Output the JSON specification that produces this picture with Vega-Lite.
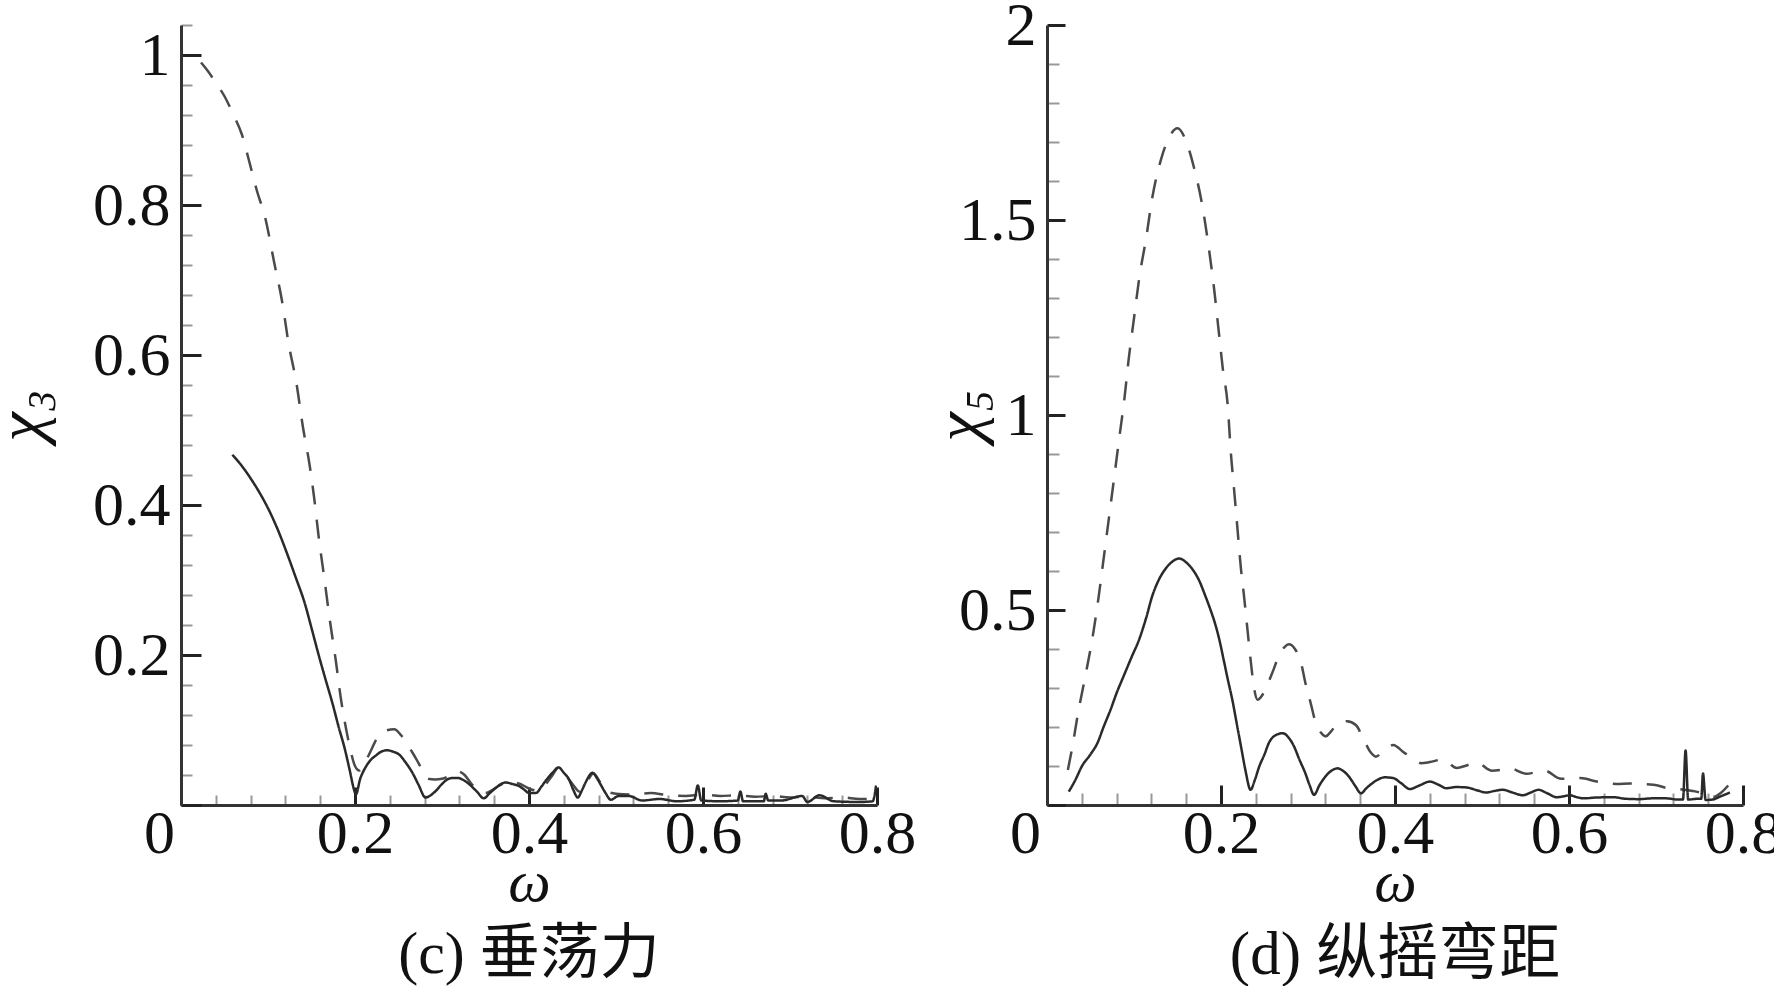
{
  "$schema": "https://vega.github.io/schema/vega-lite/v6.json",
  "background": "white",
  "padding": {"left": -12, "top": -6, "right": 5, "bottom": 0},
  "bounds": "flush",
  "spacing": 170,
  "config": {"view": {"stroke": null}},
  "datasets": {
    "c": [
      {"w":0.023,"v":0.99,"s":"dashed"},{"w":0.03,"v":0.98,"s":"dashed"},{"w":0.04,"v":0.963,"s":"dashed"},{"w":0.05,"v":0.945,"s":"dashed"},{"w":0.06,"v":0.921,"s":"dashed"},{"w":0.07,"v":0.894,"s":"dashed"},{"w":0.078,"v":0.86,"s":"dashed"},{"w":0.087,"v":0.82,"s":"dashed"},{"w":0.097,"v":0.782,"s":"dashed"},{"w":0.107,"v":0.724,"s":"dashed"},{"w":0.117,"v":0.666,"s":"dashed"},{"w":0.123,"v":0.62,"s":"dashed"},{"w":0.133,"v":0.56,"s":"dashed"},{"w":0.14,"v":0.505,"s":"dashed"},{"w":0.148,"v":0.452,"s":"dashed"},{"w":0.153,"v":0.41,"s":"dashed"},{"w":0.158,"v":0.36,"s":"dashed"},{"w":0.165,"v":0.3,"s":"dashed"},{"w":0.171,"v":0.247,"s":"dashed"},{"w":0.178,"v":0.192,"s":"dashed"},{"w":0.184,"v":0.14,"s":"dashed"},{"w":0.19,"v":0.1,"s":"dashed"},{"w":0.195,"v":0.072,"s":"dashed"},{"w":0.2,"v":0.052,"s":"dashed"},{"w":0.205,"v":0.046,"s":"dashed"},{"w":0.21,"v":0.054,"s":"dashed"},{"w":0.216,"v":0.067,"s":"dashed"},{"w":0.226,"v":0.09,"s":"dashed"},{"w":0.235,"v":0.099,"s":"dashed"},{"w":0.245,"v":0.101,"s":"dashed"},{"w":0.253,"v":0.093,"s":"dashed"},{"w":0.26,"v":0.081,"s":"dashed"},{"w":0.266,"v":0.07,"s":"dashed"},{"w":0.272,"v":0.058,"s":"dashed"},{"w":0.278,"v":0.045,"s":"dashed"},{"w":0.284,"v":0.035,"s":"dashed"},{"w":0.292,"v":0.034,"s":"dashed"},{"w":0.3,"v":0.035,"s":"dashed"},{"w":0.31,"v":0.04,"s":"dashed"},{"w":0.318,"v":0.045,"s":"dashed"},{"w":0.326,"v":0.04,"s":"dashed"},{"w":0.334,"v":0.028,"s":"dashed"},{"w":0.342,"v":0.02,"s":"dashed"},{"w":0.35,"v":0.016,"s":"dashed"},{"w":0.358,"v":0.02,"s":"dashed"},{"w":0.366,"v":0.026,"s":"dashed"},{"w":0.379,"v":0.031,"s":"dashed"},{"w":0.39,"v":0.028,"s":"dashed"},{"w":0.4,"v":0.022,"s":"dashed"},{"w":0.41,"v":0.019,"s":"dashed"},{"w":0.418,"v":0.026,"s":"dashed"},{"w":0.426,"v":0.038,"s":"dashed"},{"w":0.434,"v":0.05,"s":"dashed"},{"w":0.442,"v":0.04,"s":"dashed"},{"w":0.45,"v":0.028,"s":"dashed"},{"w":0.458,"v":0.018,"s":"dashed"},{"w":0.466,"v":0.03,"s":"dashed"},{"w":0.474,"v":0.042,"s":"dashed"},{"w":0.482,"v":0.03,"s":"dashed"},{"w":0.49,"v":0.018,"s":"dashed"},{"w":0.5,"v":0.015,"s":"dashed"},{"w":0.52,"v":0.014,"s":"dashed"},{"w":0.54,"v":0.016,"s":"dashed"},{"w":0.56,"v":0.013,"s":"dashed"},{"w":0.58,"v":0.012,"s":"dashed"},{"w":0.6,"v":0.014,"s":"dashed"},{"w":0.62,"v":0.012,"s":"dashed"},{"w":0.64,"v":0.013,"s":"dashed"},{"w":0.66,"v":0.011,"s":"dashed"},{"w":0.68,"v":0.012,"s":"dashed"},{"w":0.7,"v":0.01,"s":"dashed"},{"w":0.72,"v":0.011,"s":"dashed"},{"w":0.74,"v":0.009,"s":"dashed"},{"w":0.76,"v":0.01,"s":"dashed"},{"w":0.78,"v":0.008,"s":"dashed"},{"w":0.795,"v":0.008,"s":"dashed"},
      {"w":0.059,"v":0.467,"s":"solid"},{"w":0.07,"v":0.452,"s":"solid"},{"w":0.082,"v":0.432,"s":"solid"},{"w":0.092,"v":0.413,"s":"solid"},{"w":0.102,"v":0.391,"s":"solid"},{"w":0.112,"v":0.365,"s":"solid"},{"w":0.122,"v":0.335,"s":"solid"},{"w":0.132,"v":0.303,"s":"solid"},{"w":0.142,"v":0.27,"s":"solid"},{"w":0.15,"v":0.236,"s":"solid"},{"w":0.158,"v":0.201,"s":"solid"},{"w":0.166,"v":0.168,"s":"solid"},{"w":0.174,"v":0.136,"s":"solid"},{"w":0.181,"v":0.105,"s":"solid"},{"w":0.188,"v":0.076,"s":"solid"},{"w":0.194,"v":0.046,"s":"solid"},{"w":0.199,"v":0.02,"s":"solid"},{"w":0.201,"v":0.014,"s":"solid"},{"w":0.206,"v":0.035,"s":"solid"},{"w":0.212,"v":0.05,"s":"solid"},{"w":0.218,"v":0.06,"s":"solid"},{"w":0.224,"v":0.066,"s":"solid"},{"w":0.23,"v":0.071,"s":"solid"},{"w":0.237,"v":0.073,"s":"solid"},{"w":0.244,"v":0.071,"s":"solid"},{"w":0.251,"v":0.067,"s":"solid"},{"w":0.258,"v":0.057,"s":"solid"},{"w":0.266,"v":0.043,"s":"solid"},{"w":0.273,"v":0.027,"s":"solid"},{"w":0.281,"v":0.01,"s":"solid"},{"w":0.287,"v":0.013,"s":"solid"},{"w":0.293,"v":0.019,"s":"solid"},{"w":0.3,"v":0.028,"s":"solid"},{"w":0.306,"v":0.034,"s":"solid"},{"w":0.312,"v":0.036,"s":"solid"},{"w":0.318,"v":0.036,"s":"solid"},{"w":0.325,"v":0.033,"s":"solid"},{"w":0.331,"v":0.028,"s":"solid"},{"w":0.34,"v":0.018,"s":"solid"},{"w":0.348,"v":0.009,"s":"solid"},{"w":0.355,"v":0.016,"s":"solid"},{"w":0.362,"v":0.023,"s":"solid"},{"w":0.368,"v":0.028,"s":"solid"},{"w":0.373,"v":0.03,"s":"solid"},{"w":0.381,"v":0.028,"s":"solid"},{"w":0.389,"v":0.025,"s":"solid"},{"w":0.395,"v":0.02,"s":"solid"},{"w":0.4,"v":0.016,"s":"solid"},{"w":0.408,"v":0.016,"s":"solid"},{"w":0.414,"v":0.024,"s":"solid"},{"w":0.419,"v":0.032,"s":"solid"},{"w":0.427,"v":0.043,"s":"solid"},{"w":0.434,"v":0.05,"s":"solid"},{"w":0.44,"v":0.043,"s":"solid"},{"w":0.446,"v":0.034,"s":"solid"},{"w":0.451,"v":0.02,"s":"solid"},{"w":0.456,"v":0.01,"s":"solid"},{"w":0.461,"v":0.02,"s":"solid"},{"w":0.465,"v":0.03,"s":"solid"},{"w":0.473,"v":0.043,"s":"solid"},{"w":0.478,"v":0.036,"s":"solid"},{"w":0.482,"v":0.028,"s":"solid"},{"w":0.488,"v":0.016,"s":"solid"},{"w":0.494,"v":0.007,"s":"solid"},{"w":0.503,"v":0.012,"s":"solid"},{"w":0.515,"v":0.012,"s":"solid"},{"w":0.53,"v":0.006,"s":"solid"},{"w":0.55,"v":0.008,"s":"solid"},{"w":0.57,"v":0.005,"s":"solid"},{"w":0.59,"v":0.007,"s":"solid"},{"w":0.594,"v":0.026,"s":"solid"},{"w":0.598,"v":0.006,"s":"solid"},{"w":0.62,"v":0.005,"s":"solid"},{"w":0.64,"v":0.006,"s":"solid"},{"w":0.643,"v":0.018,"s":"solid"},{"w":0.646,"v":0.005,"s":"solid"},{"w":0.67,"v":0.005,"s":"solid"},{"w":0.672,"v":0.015,"s":"solid"},{"w":0.675,"v":0.006,"s":"solid"},{"w":0.69,"v":0.006,"s":"solid"},{"w":0.714,"v":0.012,"s":"solid"},{"w":0.72,"v":0.004,"s":"solid"},{"w":0.734,"v":0.013,"s":"solid"},{"w":0.75,"v":0.005,"s":"solid"},{"w":0.78,"v":0.004,"s":"solid"},{"w":0.795,"v":0.005,"s":"solid"},{"w":0.799,"v":0.026,"s":"solid"}
    ],
    "d": [
      {"w":0.024,"v":0.09,"s":"dashed"},{"w":0.03,"v":0.16,"s":"dashed"},{"w":0.035,"v":0.227,"s":"dashed"},{"w":0.044,"v":0.33,"s":"dashed"},{"w":0.052,"v":0.425,"s":"dashed"},{"w":0.059,"v":0.528,"s":"dashed"},{"w":0.065,"v":0.63,"s":"dashed"},{"w":0.071,"v":0.733,"s":"dashed"},{"w":0.077,"v":0.836,"s":"dashed"},{"w":0.083,"v":0.94,"s":"dashed"},{"w":0.089,"v":1.042,"s":"dashed"},{"w":0.094,"v":1.145,"s":"dashed"},{"w":0.1,"v":1.248,"s":"dashed"},{"w":0.106,"v":1.351,"s":"dashed"},{"w":0.114,"v":1.454,"s":"dashed"},{"w":0.121,"v":1.557,"s":"dashed"},{"w":0.131,"v":1.655,"s":"dashed"},{"w":0.14,"v":1.71,"s":"dashed"},{"w":0.15,"v":1.735,"s":"dashed"},{"w":0.159,"v":1.707,"s":"dashed"},{"w":0.169,"v":1.634,"s":"dashed"},{"w":0.179,"v":1.531,"s":"dashed"},{"w":0.186,"v":1.428,"s":"dashed"},{"w":0.192,"v":1.325,"s":"dashed"},{"w":0.197,"v":1.223,"s":"dashed"},{"w":0.202,"v":1.12,"s":"dashed"},{"w":0.208,"v":1.017,"s":"dashed"},{"w":0.211,"v":0.913,"s":"dashed"},{"w":0.215,"v":0.81,"s":"dashed"},{"w":0.219,"v":0.707,"s":"dashed"},{"w":0.223,"v":0.604,"s":"dashed"},{"w":0.226,"v":0.545,"s":"dashed"},{"w":0.23,"v":0.459,"s":"dashed"},{"w":0.234,"v":0.373,"s":"dashed"},{"w":0.238,"v":0.3,"s":"dashed"},{"w":0.242,"v":0.27,"s":"dashed"},{"w":0.247,"v":0.28,"s":"dashed"},{"w":0.251,"v":0.297,"s":"dashed"},{"w":0.259,"v":0.339,"s":"dashed"},{"w":0.267,"v":0.385,"s":"dashed"},{"w":0.273,"v":0.405,"s":"dashed"},{"w":0.278,"v":0.412,"s":"dashed"},{"w":0.285,"v":0.4,"s":"dashed"},{"w":0.292,"v":0.365,"s":"dashed"},{"w":0.297,"v":0.313,"s":"dashed"},{"w":0.303,"v":0.262,"s":"dashed"},{"w":0.309,"v":0.21,"s":"dashed"},{"w":0.315,"v":0.185,"s":"dashed"},{"w":0.32,"v":0.176,"s":"dashed"},{"w":0.327,"v":0.19,"s":"dashed"},{"w":0.334,"v":0.21,"s":"dashed"},{"w":0.345,"v":0.215,"s":"dashed"},{"w":0.355,"v":0.205,"s":"dashed"},{"w":0.365,"v":0.163,"s":"dashed"},{"w":0.372,"v":0.135,"s":"dashed"},{"w":0.378,"v":0.124,"s":"dashed"},{"w":0.385,"v":0.135,"s":"dashed"},{"w":0.392,"v":0.148,"s":"dashed"},{"w":0.398,"v":0.154,"s":"dashed"},{"w":0.41,"v":0.135,"s":"dashed"},{"w":0.421,"v":0.12,"s":"dashed"},{"w":0.43,"v":0.107,"s":"dashed"},{"w":0.44,"v":0.11,"s":"dashed"},{"w":0.455,"v":0.117,"s":"dashed"},{"w":0.471,"v":0.095,"s":"dashed"},{"w":0.483,"v":0.102,"s":"dashed"},{"w":0.494,"v":0.109,"s":"dashed"},{"w":0.511,"v":0.088,"s":"dashed"},{"w":0.522,"v":0.09,"s":"dashed"},{"w":0.532,"v":0.094,"s":"dashed"},{"w":0.551,"v":0.08,"s":"dashed"},{"w":0.562,"v":0.084,"s":"dashed"},{"w":0.572,"v":0.088,"s":"dashed"},{"w":0.591,"v":0.067,"s":"dashed"},{"w":0.613,"v":0.069,"s":"dashed"},{"w":0.632,"v":0.06,"s":"dashed"},{"w":0.655,"v":0.054,"s":"dashed"},{"w":0.67,"v":0.055,"s":"dashed"},{"w":0.697,"v":0.052,"s":"dashed"},{"w":0.714,"v":0.043,"s":"dashed"},{"w":0.73,"v":0.04,"s":"dashed"},{"w":0.745,"v":0.035,"s":"dashed"},{"w":0.757,"v":0.028,"s":"dashed"},{"w":0.766,"v":0.021,"s":"dashed"},{"w":0.775,"v":0.032,"s":"dashed"},{"w":0.783,"v":0.05,"s":"dashed"},
      {"w":0.025,"v":0.034,"s":"solid"},{"w":0.033,"v":0.066,"s":"solid"},{"w":0.04,"v":0.099,"s":"solid"},{"w":0.05,"v":0.13,"s":"solid"},{"w":0.058,"v":0.159,"s":"solid"},{"w":0.065,"v":0.2,"s":"solid"},{"w":0.073,"v":0.244,"s":"solid"},{"w":0.08,"v":0.287,"s":"solid"},{"w":0.088,"v":0.33,"s":"solid"},{"w":0.097,"v":0.378,"s":"solid"},{"w":0.106,"v":0.425,"s":"solid"},{"w":0.114,"v":0.48,"s":"solid"},{"w":0.121,"v":0.536,"s":"solid"},{"w":0.128,"v":0.575,"s":"solid"},{"w":0.136,"v":0.605,"s":"solid"},{"w":0.144,"v":0.624,"s":"solid"},{"w":0.152,"v":0.632,"s":"solid"},{"w":0.16,"v":0.622,"s":"solid"},{"w":0.167,"v":0.605,"s":"solid"},{"w":0.175,"v":0.575,"s":"solid"},{"w":0.182,"v":0.536,"s":"solid"},{"w":0.188,"v":0.5,"s":"solid"},{"w":0.194,"v":0.459,"s":"solid"},{"w":0.199,"v":0.415,"s":"solid"},{"w":0.203,"v":0.373,"s":"solid"},{"w":0.208,"v":0.32,"s":"solid"},{"w":0.213,"v":0.27,"s":"solid"},{"w":0.218,"v":0.21,"s":"solid"},{"w":0.223,"v":0.15,"s":"solid"},{"w":0.228,"v":0.09,"s":"solid"},{"w":0.234,"v":0.039,"s":"solid"},{"w":0.239,"v":0.065,"s":"solid"},{"w":0.244,"v":0.099,"s":"solid"},{"w":0.25,"v":0.13,"s":"solid"},{"w":0.255,"v":0.159,"s":"solid"},{"w":0.262,"v":0.178,"s":"solid"},{"w":0.271,"v":0.184,"s":"solid"},{"w":0.278,"v":0.172,"s":"solid"},{"w":0.284,"v":0.15,"s":"solid"},{"w":0.29,"v":0.117,"s":"solid"},{"w":0.297,"v":0.081,"s":"solid"},{"w":0.302,"v":0.05,"s":"solid"},{"w":0.307,"v":0.026,"s":"solid"},{"w":0.313,"v":0.05,"s":"solid"},{"w":0.32,"v":0.073,"s":"solid"},{"w":0.327,"v":0.088,"s":"solid"},{"w":0.334,"v":0.094,"s":"solid"},{"w":0.34,"v":0.088,"s":"solid"},{"w":0.347,"v":0.073,"s":"solid"},{"w":0.354,"v":0.05,"s":"solid"},{"w":0.361,"v":0.03,"s":"solid"},{"w":0.367,"v":0.043,"s":"solid"},{"w":0.374,"v":0.056,"s":"solid"},{"w":0.381,"v":0.066,"s":"solid"},{"w":0.388,"v":0.071,"s":"solid"},{"w":0.398,"v":0.069,"s":"solid"},{"w":0.407,"v":0.056,"s":"solid"},{"w":0.417,"v":0.041,"s":"solid"},{"w":0.428,"v":0.05,"s":"solid"},{"w":0.44,"v":0.06,"s":"solid"},{"w":0.45,"v":0.052,"s":"solid"},{"w":0.459,"v":0.043,"s":"solid"},{"w":0.47,"v":0.046,"s":"solid"},{"w":0.482,"v":0.045,"s":"solid"},{"w":0.494,"v":0.038,"s":"solid"},{"w":0.505,"v":0.032,"s":"solid"},{"w":0.514,"v":0.036,"s":"solid"},{"w":0.524,"v":0.039,"s":"solid"},{"w":0.535,"v":0.032,"s":"solid"},{"w":0.547,"v":0.025,"s":"solid"},{"w":0.556,"v":0.032,"s":"solid"},{"w":0.565,"v":0.039,"s":"solid"},{"w":0.575,"v":0.03,"s":"solid"},{"w":0.586,"v":0.02,"s":"solid"},{"w":0.593,"v":0.022,"s":"solid"},{"w":0.601,"v":0.025,"s":"solid"},{"w":0.609,"v":0.02,"s":"solid"},{"w":0.617,"v":0.017,"s":"solid"},{"w":0.63,"v":0.019,"s":"solid"},{"w":0.651,"v":0.02,"s":"solid"},{"w":0.665,"v":0.016,"s":"solid"},{"w":0.681,"v":0.015,"s":"solid"},{"w":0.695,"v":0.017,"s":"solid"},{"w":0.712,"v":0.017,"s":"solid"},{"w":0.725,"v":0.014,"s":"solid"},{"w":0.731,"v":0.014,"s":"solid"},{"w":0.734,"v":0.14,"s":"solid"},{"w":0.737,"v":0.014,"s":"solid"},{"w":0.748,"v":0.016,"s":"solid"},{"w":0.752,"v":0.016,"s":"solid"},{"w":0.754,"v":0.081,"s":"solid"},{"w":0.757,"v":0.013,"s":"solid"},{"w":0.765,"v":0.014,"s":"solid"},{"w":0.773,"v":0.021,"s":"solid"},{"w":0.785,"v":0.032,"s":"solid"}
    ]
  },
  "hconcat": [
    {
      "width": 696,
      "height": 780,
      "data": {"name": "c"},
      "title": {"text": "(c) 垂荡力", "orient": "bottom", "anchor": "middle", "font": "Liberation Serif, Noto Sans CJK SC", "fontSize": 60, "fontWeight": "normal", "color": "#111", "offset": 14},
      "mark": {"type": "line", "strokeWidth": 2.5, "interpolate": "monotone", "clip": true},
      "encoding": {
        "x": {"field": "w", "type": "quantitative", "scale": {"domain": [0, 0.8], "nice": false, "zero": false},
          "axis": {"values": [0,0.04,0.08,0.12,0.16,0.2,0.24,0.28,0.32,0.36,0.4,0.44,0.48,0.52,0.56,0.6,0.64,0.68,0.72,0.76,0.8],
            "labelExpr": "abs(datum.value*5-round(datum.value*5))<1e-6 ? format(datum.value,'~g') : ''",
            "tickSize": {"condition": {"test": "abs(datum.value*5-round(datum.value*5))<1e-6", "value": -18}, "value": -10},
            "tickWidth": {"condition": {"test": "abs(datum.value*5-round(datum.value*5))<1e-6", "value": 3}, "value": 2},
            "tickColor": {"condition": {"test": "abs(datum.value*5-round(datum.value*5))<1e-6", "value": "#222"}, "value": "#999"},
            "labelOffset": {"condition": {"test": "datum.value == 0", "value": -22}, "value": 0},
            "labelFlush": false, "labelOverlap": false, "labelBound": false,
            "labelFont": "Liberation Serif", "labelFontSize": 62, "labelColor": "#111", "labelBaseline": "alphabetic", "labelPadding": 65,
            "domainColor": "#333", "domainWidth": 3, "grid": false,
            "title": "ω", "titleFont": "Liberation Serif", "titleFontStyle": "italic", "titleFontWeight": "normal", "titleFontSize": 60, "titleColor": "#111", "titleBaseline": "alphabetic", "titleY": 95}},
        "y": {"field": "v", "type": "quantitative", "scale": {"domain": [0, 1.04], "nice": false},
          "axis": {"values": [0,0.04,0.08,0.12,0.16,0.2,0.24,0.28,0.32,0.36,0.4,0.44,0.48,0.52,0.56,0.6,0.64,0.68,0.72,0.76,0.8,0.84,0.88,0.92,0.96,1,1.04],
            "labelExpr": "abs(datum.value*5-round(datum.value*5))<1e-6 && datum.value > 0 ? format(datum.value,'~g') : ''",
            "tickSize": {"condition": {"test": "abs(datum.value*5-round(datum.value*5))<1e-6", "value": -20}, "value": -11},
            "tickWidth": {"condition": {"test": "abs(datum.value*5-round(datum.value*5))<1e-6", "value": 3}, "value": 2},
            "tickColor": {"condition": {"test": "abs(datum.value*5-round(datum.value*5))<1e-6", "value": "#222"}, "value": "#999"},
            "labelOverlap": false, "labelBound": false,
            "labelFont": "Liberation Serif", "labelFontSize": 62, "labelColor": "#111", "labelPadding": 31,
            "domainColor": "#333", "domainWidth": 3, "grid": false,
            "title": "χ₃", "titleFont": "Liberation Serif", "titleFontStyle": "italic", "titleFontWeight": "normal", "titleFontSize": 66, "titleColor": "#111", "titleBaseline": "alphabetic", "titleX": -140}},
        "color": {"field": "s", "type": "nominal", "scale": {"domain": ["dashed", "solid"], "range": ["#4a4a4a", "#2a2a2a"]}, "legend": null},
        "strokeDash": {"field": "s", "type": "nominal", "scale": {"domain": ["dashed", "solid"], "range": [[19, 15], [1, 0]]}, "legend": null}
      }
    },
    {
      "width": 696,
      "height": 780,
      "data": {"name": "d"},
      "title": {"text": "(d) 纵摇弯距", "orient": "bottom", "anchor": "middle", "font": "Liberation Serif, Noto Sans CJK SC", "fontSize": 61, "fontWeight": "normal", "color": "#111", "offset": 14},
      "mark": {"type": "line", "strokeWidth": 2.5, "interpolate": "monotone", "clip": true},
      "encoding": {
        "x": {"field": "w", "type": "quantitative", "scale": {"domain": [0, 0.8], "nice": false, "zero": false},
          "axis": {"values": [0,0.04,0.08,0.12,0.16,0.2,0.24,0.28,0.32,0.36,0.4,0.44,0.48,0.52,0.56,0.6,0.64,0.68,0.72,0.76,0.8],
            "labelExpr": "abs(datum.value*5-round(datum.value*5))<1e-6 ? format(datum.value,'~g') : ''",
            "tickSize": {"condition": {"test": "abs(datum.value*5-round(datum.value*5))<1e-6", "value": -20}, "value": -12},
            "tickWidth": {"condition": {"test": "abs(datum.value*5-round(datum.value*5))<1e-6", "value": 3}, "value": 2},
            "tickColor": {"condition": {"test": "abs(datum.value*5-round(datum.value*5))<1e-6", "value": "#222"}, "value": "#999"},
            "labelOffset": {"condition": {"test": "datum.value == 0", "value": -22}, "value": 0},
            "labelFlush": false, "labelOverlap": false, "labelBound": false,
            "labelFont": "Liberation Serif", "labelFontSize": 62, "labelColor": "#111", "labelBaseline": "alphabetic", "labelPadding": 67,
            "domainColor": "#333", "domainWidth": 3, "grid": false,
            "title": "ω", "titleFont": "Liberation Serif", "titleFontStyle": "italic", "titleFontWeight": "normal", "titleFontSize": 60, "titleColor": "#111", "titleBaseline": "alphabetic", "titleY": 95}},
        "y": {"field": "v", "type": "quantitative", "scale": {"domain": [0, 2], "nice": false},
          "axis": {"values": [0,0.1,0.2,0.3,0.4,0.5,0.6,0.7,0.8,0.9,1,1.1,1.2,1.3,1.4,1.5,1.6,1.7,1.8,1.9,2],
            "labelExpr": "abs(datum.value*2-round(datum.value*2))<1e-6 && datum.value > 0 ? format(datum.value,'~g') : ''",
            "tickSize": {"condition": {"test": "abs(datum.value*2-round(datum.value*2))<1e-6", "value": -18}, "value": -12},
            "tickWidth": {"condition": {"test": "abs(datum.value*2-round(datum.value*2))<1e-6", "value": 3}, "value": 2},
            "tickColor": {"condition": {"test": "abs(datum.value*2-round(datum.value*2))<1e-6", "value": "#222"}, "value": "#999"},
            "labelOverlap": false, "labelBound": false,
            "labelFont": "Liberation Serif", "labelFontSize": 62, "labelColor": "#111", "labelPadding": 29,
            "domainColor": "#333", "domainWidth": 3, "grid": false,
            "title": "χ₅", "titleFont": "Liberation Serif", "titleFontStyle": "italic", "titleFontWeight": "normal", "titleFontSize": 66, "titleColor": "#111", "titleBaseline": "alphabetic", "titleX": -68}},
        "color": {"field": "s", "type": "nominal", "scale": {"domain": ["dashed", "solid"], "range": ["#4a4a4a", "#2a2a2a"]}, "legend": null},
        "strokeDash": {"field": "s", "type": "nominal", "scale": {"domain": ["dashed", "solid"], "range": [[19, 15], [1, 0]]}, "legend": null}
      }
    }
  ]
}
